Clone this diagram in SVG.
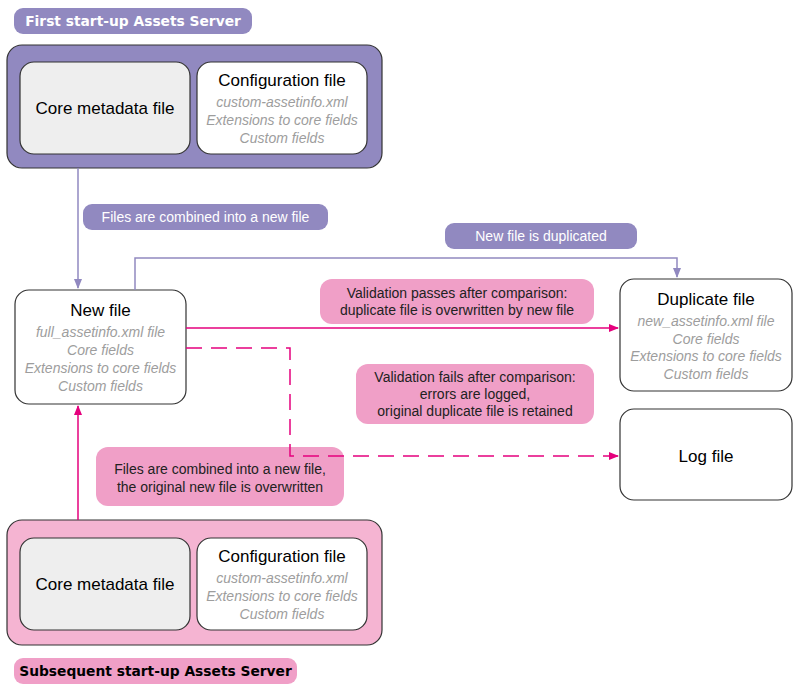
<svg xmlns="http://www.w3.org/2000/svg" width="800" height="693" viewBox="0 0 800 693">
<defs>
<style>
.t{font-family:"Liberation Sans",Arial,sans-serif;text-anchor:middle}
.h{font-size:17px;fill:#000}
.s{font-size:14px;fill:#9d9d9d;font-style:italic}
.l{font-size:14px;fill:#222}
.lw{font-size:14px;fill:#fff}
.ttl{font-family:"DejaVu Sans",Verdana,sans-serif;font-weight:bold;font-size:13.8px}
.box{stroke:#333;stroke-width:1.2}
.pp{fill:#9189c0}
.pk{fill:#f09fc7}
.cp{stroke:#9189c0;stroke-width:1.5;fill:none}
.cm{stroke:#e5007d;stroke-width:1.5;fill:none}
</style>
<marker id="ap" markerWidth="10" markerHeight="10" refX="9" refY="5" orient="auto" markerUnits="userSpaceOnUse"><path d="M0,1 L10,5 L0,9 z" fill="#9189c0"/></marker>
<marker id="am" markerWidth="10" markerHeight="10" refX="9" refY="5" orient="auto" markerUnits="userSpaceOnUse"><path d="M0,1 L10,5 L0,9 z" fill="#e5007d"/></marker>
</defs>

<g id="title-top">
<rect x="14" y="8" width="238" height="26" rx="9" class="pp"/>
<text x="133" y="26" class="ttl" fill="#fff" text-anchor="middle">First start-up Assets Server</text>
</g>

<g id="server-top">
<rect x="7" y="45" width="375" height="123" rx="15" class="box pp"/>
</g>
<g id="core-top">
<rect x="20" y="62" width="170" height="92" rx="14" class="box" fill="#eeeeee"/>
<text x="105" y="114" class="t h">Core metadata file</text>
</g>
<g id="config-top">
<rect x="197" y="62" width="170" height="92" rx="14" class="box" fill="#fff"/>
<text x="282" y="86" class="t h">Configuration file</text>
<text x="282" y="107" class="t s">custom-assetinfo.xml</text>
<text x="282" y="125" class="t s">Extensions to core fields</text>
<text x="282" y="143" class="t s">Custom fields</text>
</g>

<g id="label-combined">
<rect x="83" y="204" width="245" height="26" rx="9" class="pp"/>
<text x="205.5" y="222" class="t lw">Files are combined into a new file</text>
</g>
<g id="label-duplicated">
<rect x="445" y="223" width="192" height="26" rx="9" class="pp"/>
<text x="541" y="241" class="t lw">New file is duplicated</text>
</g>

<g id="new-file">
<rect x="15" y="290" width="171" height="114" rx="14" class="box" fill="#fff"/>
<text x="100.5" y="316" class="t h">New file</text>
<text x="100.5" y="337" class="t s">full_assetinfo.xml file</text>
<text x="100.5" y="355" class="t s">Core fields</text>
<text x="100.5" y="373" class="t s">Extensions to core fields</text>
<text x="100.5" y="391" class="t s">Custom fields</text>
</g>

<g id="duplicate-file">
<rect x="620" y="279" width="172" height="112" rx="14" class="box" fill="#fff"/>
<text x="706" y="305" class="t h">Duplicate file</text>
<text x="706" y="326" class="t s">new_assetinfo.xml file</text>
<text x="706" y="344" class="t s">Core fields</text>
<text x="706" y="361" class="t s">Extensions to core fields</text>
<text x="706" y="379" class="t s">Custom fields</text>
</g>

<g id="log-file">
<rect x="620" y="409" width="172" height="91" rx="14" class="box" fill="#fff"/>
<text x="706" y="462" class="t h">Log file</text>
</g>

<g id="label-passes">
<rect x="320" y="279" width="274" height="45" rx="12" class="pk"/>
<text x="457" y="298" class="t l">Validation passes after comparison:</text>
<text x="457" y="315" class="t l">duplicate file is overwritten by new file</text>
</g>

<g id="label-fails">
<rect x="356" y="364" width="238" height="60" rx="12" class="pk"/>
<text x="475" y="382" class="t l">Validation fails after comparison:</text>
<text x="475" y="399" class="t l">errors are logged,</text>
<text x="475" y="416" class="t l">original duplicate file is retained</text>
</g>

<g id="label-overwritten">
<rect x="96" y="447" width="248" height="59" rx="12" class="pk"/>
<text x="220" y="474" class="t l">Files are combined into a new file,</text>
<text x="220" y="492" class="t l">the original new file is overwritten</text>
</g>

<g id="server-bottom">
<rect x="7" y="520" width="375" height="125" rx="15" class="box" fill="#f5b4d2"/>
</g>
<g id="core-bottom">
<rect x="20" y="538" width="170" height="92" rx="14" class="box" fill="#eeeeee"/>
<text x="105" y="590" class="t h">Core metadata file</text>
</g>
<g id="config-bottom">
<rect x="197" y="538" width="170" height="92" rx="14" class="box" fill="#fff"/>
<text x="282" y="562" class="t h">Configuration file</text>
<text x="282" y="583" class="t s">custom-assetinfo.xml</text>
<text x="282" y="601" class="t s">Extensions to core fields</text>
<text x="282" y="619" class="t s">Custom fields</text>
</g>

<g id="title-bottom">
<rect x="14" y="658" width="283" height="26" rx="9" class="pk"/>
<text x="155.5" y="676" class="ttl" fill="#000" text-anchor="middle">Subsequent start-up Assets Server</text>
</g>

<g id="connectors">
<path class="cp" d="M78,168 V288" marker-end="url(#ap)"/>
<path class="cp" d="M135,290 V258 H677 V277" marker-end="url(#ap)"/>
<path class="cm" d="M186,328 H618" marker-end="url(#am)"/>
<path class="cm" d="M186,348 H290 V456 H618" stroke-dasharray="16,9" marker-end="url(#am)"/>
<path class="cm" d="M78,520 V406" marker-end="url(#am)"/>
</g>
</svg>
